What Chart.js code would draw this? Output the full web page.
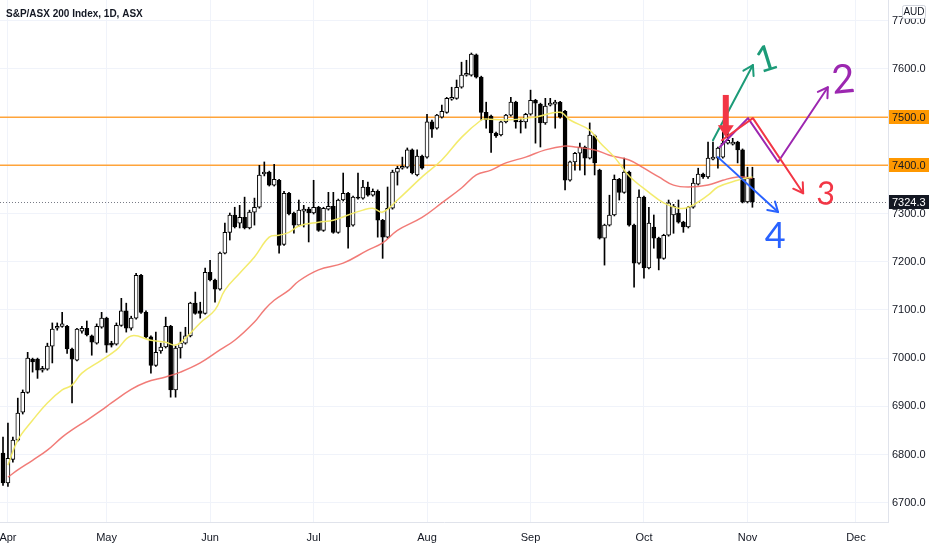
<!DOCTYPE html>
<html>
<head>
<meta charset="utf-8">
<title>S&amp;P/ASX 200 Index, 1D, ASX</title>
<script src="https://cdn.jsdelivr.net/npm/chart.js@4.4.0/dist/chart.umd.min.js"></script>
<style>
    html, body { margin: 0; padding: 0; background: #ffffff; }
    #wrap { width: 932px; height: 550px; }
</style>
</head>
<body>
<div id="wrap"><canvas id="asxChart" width="932" height="550"></canvas></div>
<script>
// Daily candles, 1 Apr to 3 Nov (one value per bar)
var opens = [6803,6741,6790,6830,6888,6929,6998,6998,6975,6977,
    7025,7062,7066,7066,7019,6996,7056,7062,7046,7031,
    7064,7083,7031,7029,7068,7098,7062,7083,7172,7095,
    7044,6985,7015,7023,7066,6934,7021,7031,7046,7114,
    7098,7093,7178,7162,7143,7218,7261,7297,7280,7292,
    7270,7303,7313,7382,7386,7359,7369,7236,7342,7301,
    7276,7305,7309,7301,7313,7265,7309,7315,7261,7328,
    7342,7276,7334,7332,7355,7338,7346,7286,7251,7311,
    7386,7394,7396,7432,7380,7419,7417,7490,7477,7500,
    7510,7537,7539,7562,7587,7587,7629,7583,7510,7502,
    7467,7463,7490,7504,7531,7492,7490,7506,7535,7527,
    7488,7525,7527,7531,7512,7369,7407,7425,7438,7415,
    7461,7390,7249,7276,7297,7371,7344,7386,7276,7197,
    7334,7187,7272,7249,7207,7255,7297,7301,7282,7272,
    7313,7361,7382,7376,7413,7415,7417,7446,7444,7448,
    7432,7324,7373];
var highs = [6836,6865,6836,6917,6934,7012,7000,7000,6983,7031,
    7073,7073,7095,7068,7021,7062,7066,7077,7048,7071,
    7095,7085,7035,7073,7124,7114,7087,7176,7174,7098,
    7046,7054,7031,7085,7068,7025,7054,7064,7116,7137,
    7116,7187,7203,7164,7220,7280,7301,7313,7317,7334,
    7307,7332,7400,7407,7388,7402,7371,7346,7344,7303,
    7328,7317,7313,7369,7315,7313,7344,7344,7330,7384,
    7344,7336,7384,7369,7365,7351,7349,7288,7355,7390,
    7398,7417,7436,7434,7432,7421,7506,7494,7506,7525,
    7541,7562,7577,7614,7618,7633,7631,7585,7531,7504,
    7469,7492,7506,7541,7533,7496,7508,7556,7537,7529,
    7539,7539,7535,7533,7514,7409,7427,7446,7440,7488,
    7463,7392,7278,7338,7380,7373,7415,7388,7278,7349,
    7336,7313,7297,7251,7257,7328,7319,7328,7284,7315,
    7373,7394,7384,7448,7448,7438,7469,7473,7456,7450,
    7434,7396,7396];
var lows = [6736,6734,6784,6828,6884,6927,6971,6958,6971,6975,
    6990,7058,7064,7010,6907,6994,7052,7046,7006,7029,
    7062,7012,7023,7027,7066,7054,7058,7081,7093,7041,
    6969,6983,7010,7021,6919,6919,7000,7029,7044,7091,
    7083,7091,7160,7116,7141,7216,7245,7270,7270,7268,
    7268,7276,7311,7378,7357,7357,7218,7234,7297,7259,
    7274,7272,7241,7299,7263,7263,7307,7259,7259,7326,
    7228,7274,7330,7330,7336,7336,7251,7207,7249,7309,
    7359,7392,7394,7382,7378,7392,7415,7458,7475,7498,
    7508,7535,7537,7560,7585,7585,7581,7494,7477,7427,
    7458,7461,7488,7502,7477,7467,7477,7504,7446,7438,
    7485,7523,7477,7498,7349,7367,7390,7390,7380,7413,
    7380,7247,7193,7274,7295,7328,7342,7274,7147,7195,
    7166,7185,7228,7183,7205,7253,7259,7280,7261,7270,
    7311,7359,7373,7373,7411,7394,7415,7444,7442,7405,
    7322,7322,7313];
var closes = [6741,6792,6830,6886,6929,7000,6992,6975,6979,7025,
    7060,7066,7071,7019,6998,7060,7062,7048,7033,7066,
    7083,7027,7027,7068,7098,7062,7083,7172,7095,7044,
    6985,7012,7023,7066,6934,7021,7031,7046,7114,7093,
    7093,7178,7162,7143,7218,7261,7297,7272,7292,7270,
    7303,7313,7380,7386,7359,7371,7234,7342,7299,7276,
    7307,7309,7301,7313,7265,7311,7315,7261,7328,7342,
    7272,7334,7332,7355,7338,7346,7286,7251,7311,7386,
    7394,7398,7432,7384,7419,7394,7490,7475,7504,7512,
    7539,7541,7562,7587,7591,7631,7583,7510,7494,7467,
    7461,7490,7504,7531,7490,7490,7506,7535,7529,7488,
    7523,7529,7531,7500,7369,7407,7425,7438,7415,7463,
    7405,7249,7276,7297,7371,7344,7386,7276,7197,7334,
    7187,7280,7249,7207,7255,7322,7315,7282,7272,7313,
    7363,7382,7376,7415,7417,7436,7446,7452,7448,7432,
    7324,7373,7324.3];

// month labels sit on these bars
var monthBars = [1, 21, 42, 63, 86, 107, 130, 151, 173];
var monthNames = ['Apr', 'May', 'Jun', 'Jul', 'Aug', 'Sep', 'Oct', 'Nov', 'Dec'];
var priceTicks = [6700, 6800, 6900, 7000, 7100, 7200, 7300, 7400, 7500, 7600, 7700];

// moving averages, read at a handful of bars
var maFastBars = [1,3,6,9,12,14,16,20,23,26,30,33,35,37,40,43,45,48,51,54,56,58,60,64,67,70,73,75,77,80,85,89,93,97,98,102,108,113,115,119,121,124,127,131,134,137,139,143,145,149,152];
var maFast = [6778,6830,6871,6907,6934,6944,6969,6996,7017,7046,7037,7033,7027,7041,7073,7100,7141,7176,7210,7251,7255,7261,7274,7282,7286,7297,7307,7311,7303,7328,7376,7411,7458,7494,7496,7494,7500,7510,7494,7473,7448,7417,7378,7344,7322,7311,7313,7338,7355,7369,7376];
var maSlowBars = [1,3,6,9,12,14,17,20,22,26,29,33,36,40,44,47,51,53,55,58,60,64,69,74,77,80,85,89,93,96,99,102,106,110,114,116,120,123,127,130,133,136,139,143,146,149,152];
var maSlow = [6753,6768,6788,6809,6836,6851,6871,6892,6907,6935,6950,6961,6971,6990,7017,7037,7075,7100,7120,7141,7160,7183,7197,7224,7239,7265,7292,7322,7353,7380,7390,7405,7417,7432,7440,7438,7432,7421,7411,7394,7376,7359,7355,7359,7369,7376,7373];

// horizontal levels and last price
var levels = [7500, 7400];
var lastPrice = 7324.3;

// hand drawn scenarios: [bar, price]
var greenPath = [[144.0, 7452], [152.1, 7608]];
var purplePath = [[145.4, 7438], [151.1, 7498], [157.2, 7407], [167.3, 7562]];
var redPath = [[145.8, 7452], [152.1, 7498], [162.3, 7342]];
var bluePath = [[145.0, 7417], [157.2, 7303]];
var signalArrow = [146.6, 7546, 7458]; // bar, top, tip
var scenarioLabels = [
    { text: '1', bar: 154.8, price: 7620, color: '#1c9b78', size: 36, rot: -0.3 },
    { text: '2', bar: 170.4, price: 7577, color: '#9c27b0', size: 40, rot: -0.1 },
    { text: '3', bar: 166.9, price: 7340, color: '#f23645', size: 32, rot: 0.05 },
    { text: '4', bar: 156.6, price: 7253, color: '#2962ff', size: 36, rot: 0 }
];

var bodies = [], wicks = [], bodyFill = [];
for (var i = 0; i < closes.length; i++) {
    bodies.push({ x: i, y: [opens[i], closes[i]] });
    wicks.push({ x: i, y: [lows[i], highs[i]] });
    bodyFill.push(closes[i] >= opens[i] ? '#ffffff' : '#000000');
}

function pairs(bars, vals) {
    return bars.map(function (b, j) { return { x: b, y: vals[j] }; });
}

function px(chart, pt) {
    return [chart.scales.x.getPixelForValue(pt[0]), chart.scales.y.getPixelForValue(pt[1])];
}

function strokePath(ctx, chart, pts, color) {
    var p = pts.map(function (q) { return px(chart, q); });
    ctx.strokeStyle = color;
    ctx.lineWidth = 2;
    ctx.lineJoin = 'round';
    ctx.lineCap = 'round';
    ctx.beginPath();
    p.forEach(function (q, j) { if (j === 0) ctx.moveTo(q[0], q[1]); else ctx.lineTo(q[0], q[1]); });
    ctx.stroke();
    var a = p[p.length - 2], b = p[p.length - 1];
    var ang = Math.atan2(b[1] - a[1], b[0] - a[0]);
    var len = 11;
    ctx.beginPath();
    ctx.moveTo(b[0] - len * Math.cos(ang - 0.55), b[1] - len * Math.sin(ang - 0.55));
    ctx.lineTo(b[0], b[1]);
    ctx.lineTo(b[0] - len * Math.cos(ang + 0.55), b[1] - len * Math.sin(ang + 0.55));
    ctx.stroke();
}

function priceTag(ctx, chart, value, bg, fg) {
    var y = Math.round(chart.scales.y.getPixelForValue(value));
    var x0 = chart.chartArea.right + 1;
    ctx.fillStyle = bg;
    ctx.fillRect(x0, y - 7, 40, 14);
    ctx.fillStyle = fg;
    ctx.font = '11px "Liberation Sans", Arial, sans-serif';
    ctx.textAlign = 'left';
    ctx.textBaseline = 'middle';
    ctx.fillText(value.toFixed(1), x0 + 3, y + 0.5);
}

function noPadding(scale) {
    scale.paddingLeft = 0;
    scale.paddingRight = 0;
    scale.paddingTop = 0;
    scale.paddingBottom = 0;
}

var overlay = {
    id: 'overlay',
    beforeDatasetsDraw: function (chart) {
        var ctx = chart.ctx, area = chart.chartArea;
        ctx.save();
        ctx.setLineDash([]);
        ctx.globalAlpha = 1;
        levels.forEach(function (lv) {
            var y = Math.round(chart.scales.y.getPixelForValue(lv));
            ctx.fillStyle = '#ffa43a';
            ctx.fillRect(area.left, y - 0.5, area.right - area.left, 1.5);
        });
        var ly = Math.round(chart.scales.y.getPixelForValue(lastPrice)) + 0.5;
        ctx.strokeStyle = '#787b86';
        ctx.lineWidth = 1;
        ctx.setLineDash([1, 2]);
        ctx.beginPath();
        ctx.moveTo(area.left, ly);
        ctx.lineTo(area.right, ly);
        ctx.stroke();
        ctx.restore();
    },
    afterDatasetsDraw: function (chart) {
        var ctx = chart.ctx;
        ctx.save();
        strokePath(ctx, chart, greenPath, '#1c9b78');
        strokePath(ctx, chart, purplePath, '#9c27b0');
        strokePath(ctx, chart, redPath, '#f23645');
        strokePath(ctx, chart, bluePath, '#2962ff');

        // red down arrow over the top
        var ax = chart.scales.x.getPixelForValue(signalArrow[0]);
        var top = chart.scales.y.getPixelForValue(signalArrow[1]);
        var tip = chart.scales.y.getPixelForValue(signalArrow[2]);
        ctx.fillStyle = '#f23645';
        ctx.fillRect(ax - 3, top, 6, tip - top - 10);
        ctx.beginPath();
        ctx.moveTo(ax - 8, tip - 12);
        ctx.lineTo(ax + 8, tip - 12);
        ctx.lineTo(ax, tip);
        ctx.closePath();
        ctx.fill();

        scenarioLabels.forEach(function (l) {
            var p = px(chart, [l.bar, l.price]);
            ctx.save();
            ctx.translate(p[0], p[1]);
            ctx.rotate(l.rot);
            ctx.fillStyle = l.color;
            ctx.font = l.size + 'px Lato, "DejaVu Sans", sans-serif';
            ctx.textAlign = 'center';
            ctx.textBaseline = 'middle';
            ctx.fillText(l.text, 0, 0);
            ctx.restore();
        });
        ctx.restore();
    },
    afterDraw: function (chart) {
        var ctx = chart.ctx;
        ctx.save();
        priceTag(ctx, chart, levels[0], '#ff9800', '#131722');
        priceTag(ctx, chart, levels[1], '#ff9800', '#131722');
        priceTag(ctx, chart, lastPrice, '#131722', '#ffffff');

        // currency badge
        ctx.fillStyle = '#ffffff';
        ctx.strokeStyle = '#d1d4dc';
        ctx.lineWidth = 1;
        ctx.beginPath();
        ctx.roundRect(902.5, 5.5, 23, 13, 2);
        ctx.fill();
        ctx.stroke();
        ctx.fillStyle = '#131722';
        ctx.font = '10px "Liberation Sans", Arial, sans-serif';
        ctx.textAlign = 'center';
        ctx.textBaseline = 'middle';
        ctx.fillText('AUD', 914, 12.5);

        ctx.textAlign = 'left';
        ctx.textBaseline = 'alphabetic';
        ctx.font = 'bold 10px "Liberation Sans", Arial, sans-serif';
        ctx.fillText('S&P/ASX 200 Index, 1D, ASX', 6, 17);
        ctx.restore();
    }
};

Chart.defaults.font.family = '"Liberation Sans", Arial, sans-serif';
Chart.defaults.color = '#131722';

new Chart(document.getElementById('asxChart'), {
    type: 'bar',
    data: {
        datasets: [
            {
                type: 'line',
                data: pairs(maFastBars, maFast),
                borderColor: 'rgba(242, 234, 100, 0.95)',
                borderWidth: 1.5,
                pointRadius: 0,
                tension: 0.4,
                order: 0
            },
            {
                type: 'line',
                data: pairs(maSlowBars, maSlow),
                borderColor: 'rgba(239, 100, 95, 0.85)',
                borderWidth: 1.5,
                pointRadius: 0,
                tension: 0.4,
                order: 0
            },
            {
                data: bodies,
                backgroundColor: bodyFill,
                borderColor: '#000000',
                borderWidth: 1,
                borderSkipped: false,
                barThickness: 4,
                grouped: false,
                order: 1
            },
            {
                data: wicks,
                backgroundColor: '#000000',
                borderWidth: 0,
                barThickness: 1,
                grouped: false,
                order: 2
            }
        ]
    },
    options: {
        responsive: false,
        animation: false,
        layout: { padding: 0 },
        plugins: {
            legend: { display: false },
            tooltip: { enabled: false }
        },
        scales: {
            x: {
                type: 'linear',
                position: 'bottom',
                min: -0.61,
                max: 179.5,
                offset: false,
                grid: { color: '#f0f3fa', drawTicks: false, offset: false },
                border: { color: '#e0e3eb' },
                afterBuildTicks: function (scale) {
                    scale.ticks = monthBars.map(function (b) { return { value: b }; });
                },
                afterFit: function (scale) { scale.height = 28; noPadding(scale); },
                ticks: {
                    autoSkip: false,
                    maxRotation: 0,
                    padding: 9,
                    font: { size: 11 },
                    callback: function (value) {
                        var k = monthBars.indexOf(value);
                        return k >= 0 ? monthNames[k] : '';
                    }
                }
            },
            y: {
                type: 'linear',
                position: 'right',
                min: 6660,
                max: 7743,
                grid: { color: '#f0f3fa', drawTicks: false },
                border: { color: '#e0e3eb' },
                afterBuildTicks: function (scale) {
                    scale.ticks = priceTicks.map(function (v) { return { value: v }; });
                },
                afterFit: function (scale) { scale.width = 44; noPadding(scale); },
                ticks: {
                    padding: 4,
                    font: { size: 11 },
                    callback: function (value) { return Number(value).toFixed(1); }
                }
            }
        }
    },
    plugins: [overlay]
});
</script>
</body>
</html>
